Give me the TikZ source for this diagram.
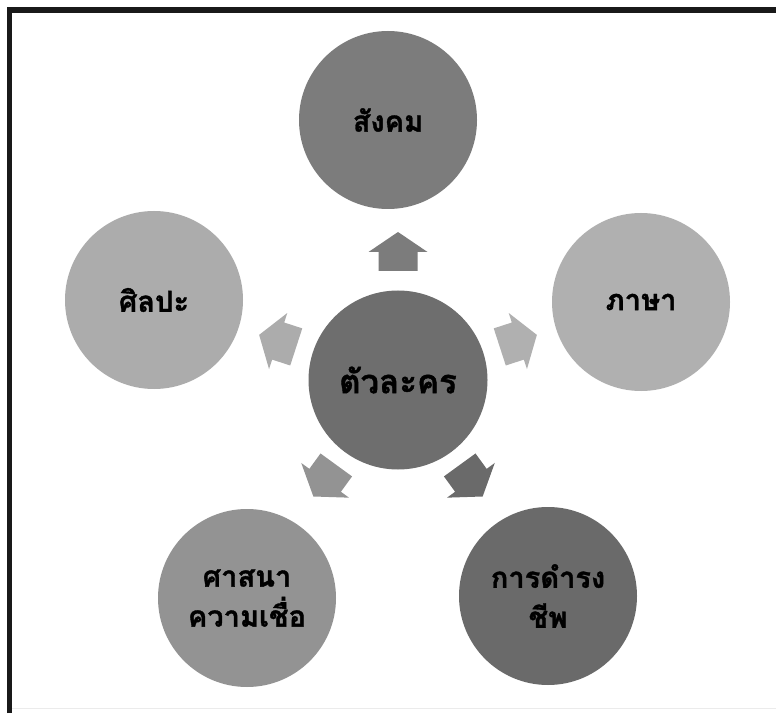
\documentclass[tikz,border=0pt]{standalone}
\usepackage{fontspec}
\usetikzlibrary{calc}
\newfontfamily\thaifont[Script=Thai, BoldFeatures={FakeBold=1.2}]{Loma}
\definecolor{cTop}{HTML}{7C7C7C}
\definecolor{cMid}{HTML}{6E6E6E}
\definecolor{cLeft}{HTML}{ACACAC}
\definecolor{cRight}{HTML}{B0B0B0}
\definecolor{cBL}{HTML}{939393}
\definecolor{cBR}{HTML}{6A6A6A}
\tikzset{
  bubble/.style={circle, minimum size=178pt, inner sep=0pt, align=center,
    font=\thaifont\bfseries\fontsize{29}{40}\selectfont, text=black},
  blockarrow/.pic={
    \fill[pic actions] (-19,-19.5) -- (0,-19.5) -- (0,-29.5) -- (20,0) -- (0,29.5) -- (0,19.5) -- (-19,19.5) -- cycle;
  }
}
\begin{document}
\begin{tikzpicture}[x=1pt,y=1pt]
\useasboundingbox (0,0) rectangle (776,713);
\fill[white] (0,0) rectangle (776,713);
% frame
\draw[line width=5.5pt, black!90] (9.5,0) -- (9.5,703) -- (776,703);
\draw[line width=1pt, black!8] (12,5) -- (776,5);
% circles
\node[bubble, fill=cTop]   (society)  at (388,593) {สังคม};
\node[bubble, fill=cLeft]  (art)      at (154,413) {ศิลปะ};
\node[bubble, fill=cRight] (language) at (641,411) {ภาษา};
\node[bubble, fill=cBL]    (religion) at (247,115) {ศาสนา\\ความเชื่อ};
\node[bubble, fill=cBR]    (living)   at (548,117) {การดำรง\\ชีพ};
\node[bubble, fill=cMid, minimum size=179pt, font=\thaifont\bfseries\fontsize{33}{40}\selectfont] (char) at (398,333) {ตัวละคร};
% arrows
\pic (aTop)   [fill=cTop,   rotate=90]  at ($(char)+(90:128)$)  {blockarrow};
\pic (aLeft)  [fill=cLeft,  rotate=162] at ($(char)+(162:126)$) {blockarrow};
\pic (aRight) [fill=cRight, rotate=18]  at ($(char)+(18:126)$)  {blockarrow};
\pic (aBL)    [fill=cBL,    rotate=234] at ($(char)+(234:124)$) {blockarrow};
\pic (aBR)    [fill=cBR,    rotate=306] at ($(char)+(306:124)$) {blockarrow};
\end{tikzpicture}
\end{document}
